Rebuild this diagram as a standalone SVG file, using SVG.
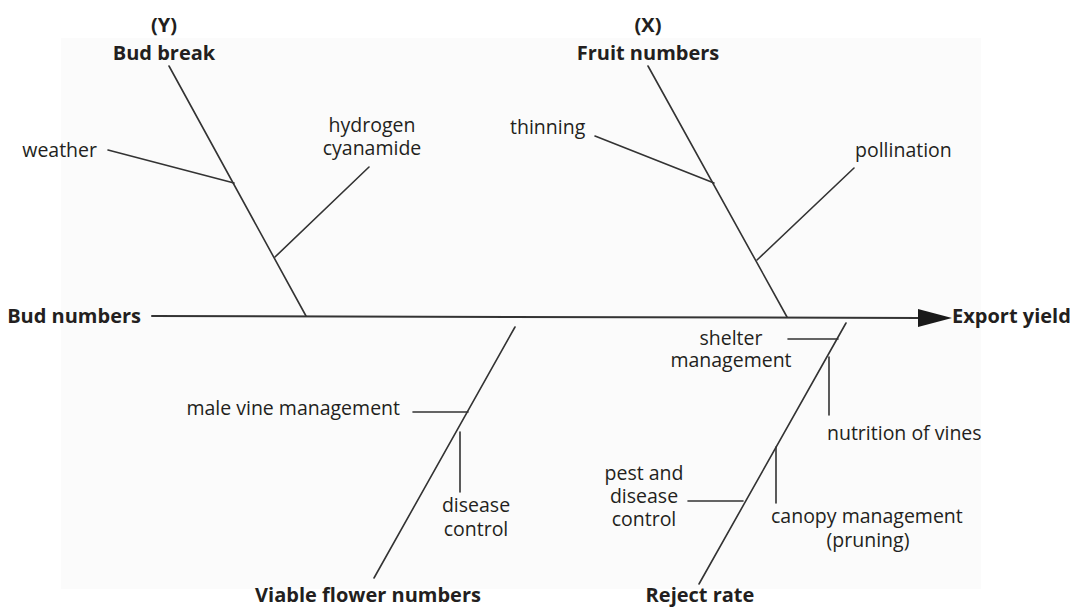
<svg xmlns="http://www.w3.org/2000/svg" width="1080" height="610" viewBox="0 0 1080 610">
<style>
.t{font-family:"Open Sans","Noto Sans","Liberation Sans",sans-serif;font-size:19.5px;fill:#231f20}
.b{font-family:"Open Sans","Noto Sans","Liberation Sans",sans-serif;font-size:20px;font-weight:bold;fill:#231f20}
.m{text-anchor:middle}
.e{text-anchor:end}
.l{stroke:#333;stroke-width:1.6;fill:none;stroke-linecap:round}
</style>
<rect x="0" y="0" width="1080" height="610" fill="#ffffff"/>
<rect x="61" y="38" width="920" height="551" fill="#fbfbfb"/>
<g id="connectors">
<line class="l" x1="152" y1="316" x2="920" y2="318" style="stroke-width:2"/>
<polygon points="918,309 952,318 918,327" fill="#1a1a1a"/>
<line class="l" x1="169" y1="66" x2="306" y2="316"/>
<line class="l" x1="108" y1="150" x2="234" y2="183"/>
<line class="l" x1="369" y1="167" x2="275" y2="257"/>
<line class="l" x1="648" y1="66" x2="787" y2="317"/>
<line class="l" x1="595" y1="136" x2="714" y2="183"/>
<line class="l" x1="854" y1="168" x2="757" y2="260"/>
<line class="l" x1="515" y1="327" x2="374" y2="578"/>
<line class="l" x1="413" y1="412" x2="468" y2="412"/>
<line class="l" x1="460" y1="432" x2="460" y2="492"/>
<line class="l" x1="846" y1="323" x2="699" y2="584"/>
<line class="l" x1="788" y1="339" x2="838" y2="339"/>
<line class="l" x1="829" y1="357" x2="829" y2="415"/>
<line class="l" x1="776" y1="447" x2="776" y2="503"/>
<line class="l" x1="688" y1="501" x2="743" y2="501"/>
</g>
<g id="export-yield"><text class="b" x="952" y="323">Export yield</text></g>
<g id="bud-numbers"><text class="b e" x="141" y="323">Bud numbers</text></g>
<g id="bud-break"><text class="b m" x="164" y="32">(Y)</text><text class="b m" x="164" y="60">Bud break</text></g>
<g id="fruit-numbers"><text class="b m" x="648" y="32">(X)</text><text class="b m" x="648" y="60">Fruit numbers</text></g>
<g id="viable-flower-numbers"><text class="b m" x="368" y="602">Viable flower numbers</text></g>
<g id="reject-rate"><text class="b m" x="700" y="602">Reject rate</text></g>
<g id="weather"><text class="t e" x="97" y="157">weather</text></g>
<g id="hydrogen-cyanamide"><text class="t m" x="372" y="132">hydrogen<tspan x="372" dy="23">cyanamide</tspan></text></g>
<g id="thinning"><text class="t" x="510" y="134">thinning</text></g>
<g id="pollination"><text class="t" x="855" y="157">pollination</text></g>
<g id="male-vine-management"><text class="t e" x="400" y="415">male vine management</text></g>
<g id="disease-control"><text class="t m" x="476" y="512">disease<tspan x="476" dy="24">control</tspan></text></g>
<g id="shelter-management"><text class="t m" x="731" y="345">shelter<tspan x="731" dy="22">management</tspan></text></g>
<g id="nutrition-of-vines"><text class="t" x="827" y="440">nutrition of vines</text></g>
<g id="pest-disease-control"><text class="t m" x="644" y="480">pest and<tspan x="644" dy="23">disease</tspan><tspan x="644" dy="23">control</tspan></text></g>
<g id="canopy-management"><text class="t" x="771" y="523">canopy management<tspan class="m" x="868" y="547" text-anchor="middle">(pruning)</tspan></text></g>
</svg>
